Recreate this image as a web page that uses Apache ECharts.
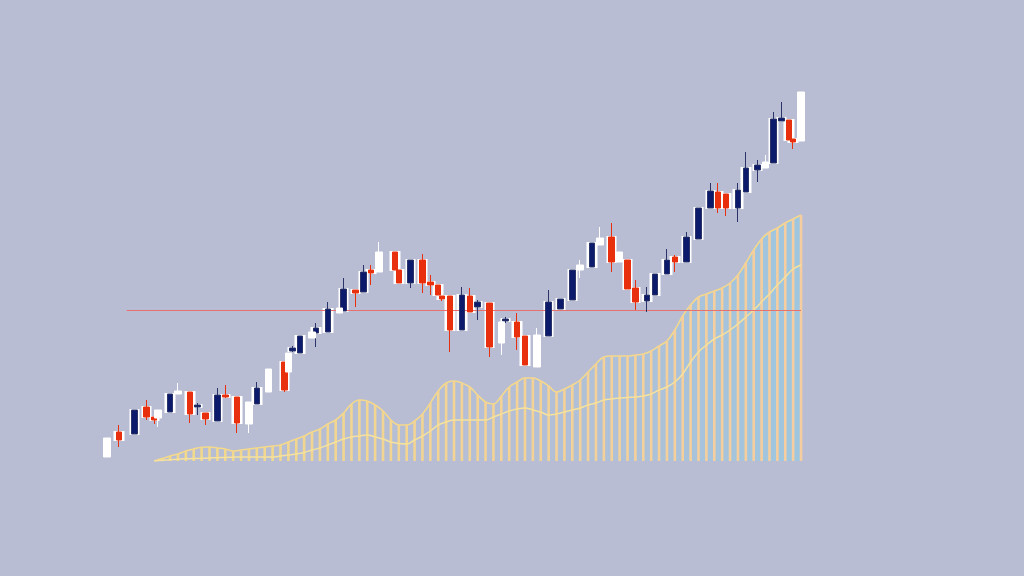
<!DOCTYPE html>
<html><head><meta charset="utf-8">
<script src="https://cdn.jsdelivr.net/npm/echarts@6/dist/echarts.min.js"></script>
<style>html,body{margin:0;padding:0;background:#b8bdd3;}#c{width:1024px;height:576px;}</style>
</head><body><div id="c"></div>
<script>
// ---- data ----
const SLOT_COUNT = 177;
const periods = Array.from({length: SLOT_COUNT}, (_, i) => 'T' + (i + 1));

// coloured candles (navy = rising, red = falling)
const candleSlots = [3,7,10,12,16,21,23,25,28,30,33,38,45,47,49,53,56,60,63,65,67,73,74,77,80,82,84,85,87,90,92,94,97,101,104,106,112,115,118,123,128,132,134,137,139,142,144,147,150,153,155,157,160,162,165,169,171,173,174];
const candleOpen  = [29,27,54,44,49,69,54,48,40,66,64,57,99,110,108,128,129,150,171,169,191,209,191,178,201,179,176,165,165,131,165,154,158,140,139,125,125,152,161,194,224,201,173,160,166,187,204,199,222,253,269,267,253,269,291,298,340,341,322];
const candleClose = [21,51,44,41,67,47,56,42,66,64,38,73,71,113,125,133,152,172,168,189,188,191,178,201,178,176,166,162,131,166,149,159,114,142,124,96,159,162,191,218,199,172,159,166,187,201,199,224,253,270,253,253,271,293,296,342,343,321,319];
const candleLow   = [14,27,41,37,49,38,46,36,40,63,28,57,69,109,108,114,129,150,154,169,176,191,178,173,168,166,166,160,109,131,149,141,104,138,111,96,125,152,161,194,189,172,151,149,166,187,189,199,222,253,248,245,239,269,279,298,340,321,312];
const candleHigh  = [36,51,61,46,67,69,58,48,73,76,64,79,99,115,125,138,159,183,171,196,196,209,191,201,207,186,176,165,165,174,173,161,158,144,148,125,171,162,191,218,238,201,181,174,187,212,206,229,253,278,278,267,278,309,301,349,359,341,322];

// white candles
const whiteSlots = [0,13,18,36,41,46,52,59,69,100,109,120,125,130,167,176];
const whiteOpen  = [4,43,67,37,69,89,123,148,189,118,94,191,216,199,293,320];
const whiteClose = [23,51,70,59,92,108,129,153,209,139,126,196,223,209,299,369];
const whiteLow   = [4,34,67,28,69,89,123,148,189,106,94,183,216,199,293,320];
const whiteHigh  = [23,51,78,59,92,108,129,161,219,139,133,201,234,209,306,369];

// volume envelope (upper) and its average line (middle), one value per volume bar
const volumeStartSlot = 12, volumeSlotStep = 2;
const volumeUpper = [0,2.4,5,7,10,12,13.7,14,13,12,10,11,12,13,14,15,16,19,22,25,29,32,37,41,48,57,61,60,56,50,41,36,36,40,47,58,70,78,80,78,74,66,59,57,65,74,79,83,83,80,75,69,72,76,81,89,97,104,105,105,105,106,107,110,115,120,131,145,156,164,167,170,173,178,186,198,211,222,229,233,238,242,246];
const volumeMiddle = [0,0.6,1.2,1.8,2.2,2.5,2.7,3,3.3,3.5,3.8,4,4,4,4,4,5,6,7,8.5,11,13,16,19,22,24,25,26,24,22,19,17.5,17,21,25,30,36,39,41,41,41,41,41,44,47,50,52,53,51,49,46,47,49,51,53,56,58,61,62,63,63.5,64,65,67,71,74,79,87,99,109,116,122,126,131,137,144,151,159,167,176,184,192,196];

const referenceLevel = 151;
const referenceFrom = 5, referenceTo = 176;

// ---- build series data ----
function emptyCandles(){ return Array.from({length: SLOT_COUNT}, () => ['-','-','-','-']); }
const mainData = emptyCandles();
const haloData = emptyCandles();
candleSlots.forEach((s, i) => {
  const o = candleOpen[i], c = candleClose[i];
  mainData[s] = [o, c, candleLow[i], candleHigh[i]];
  haloData[s] = [o, c, Math.min(o, c), Math.max(o, c)];
});
const whiteData = emptyCandles();
whiteSlots.forEach((s, i) => { whiteData[s] = [whiteOpen[i], whiteClose[i], whiteLow[i], whiteHigh[i]]; });
const upperData = Array(SLOT_COUNT).fill('-');
const middleData = Array(SLOT_COUNT).fill('-');
volumeUpper.forEach((v, i) => { upperData[volumeStartSlot + i * volumeSlotStep] = v; });
volumeMiddle.forEach((v, i) => { middleData[volumeStartSlot + i * volumeSlotStep] = v; });

const chart = echarts.init(document.getElementById('c'), null, {renderer: 'canvas'});
chart.setOption({
  backgroundColor: '#b8bdd3',
  animation: false,
  grid: {left: 105, right: 221, top: 90, bottom: 115},
  xAxis: {type: 'category', data: periods, boundaryGap: true, show: false},
  yAxis: {type: 'value', min: 0, max: 371, show: false, splitLine: {show: false}},
  series: [
    {
      type: 'line', data: upperData, connectNulls: true, smooth: 0.4, symbol: 'none', z: 1,
      lineStyle: {color: '#f4d98c', width: 1.6},
      areaStyle: {color: {type: 'linear', global: true, x: 150, y: 0, x2: 805, y2: 0, colorStops: [
        {offset: 0, color: 'rgba(140,205,232,0)'},
        {offset: 0.55, color: 'rgba(140,205,232,0.12)'},
        {offset: 0.8, color: 'rgba(140,205,232,0.45)'},
        {offset: 1, color: 'rgba(140,205,232,0.85)'}]}}
    },
    {
      type: 'bar', data: upperData, barWidth: 2.6, z: 2,
      itemStyle: {color: {type: 'linear', global: true, x: 155, y: 0, x2: 801, y2: 0, colorStops: [
        {offset: 0, color: '#f1d98a'}, {offset: 1, color: '#f6cd9f'}]}}
    },
    {
      type: 'line', data: middleData, connectNulls: true, smooth: 0.4, symbol: 'none', z: 3,
      lineStyle: {color: '#f6e29c', width: 1.5},
      markLine: {
        silent: true, symbol: ['none', 'none'], label: {show: false},
        lineStyle: {color: '#e8716f', width: 1, type: 'solid', opacity: 1},
        data: [[{coord: [periods[referenceFrom], referenceLevel]}, {coord: [periods[referenceTo], referenceLevel]}]]
      }
    },
    {
      type: 'candlestick', data: haloData, barWidth: 9, z: 4, silent: true,
      itemStyle: {color: '#ffffff', color0: '#ffffff', borderColor: '#ffffff', borderColor0: '#ffffff', borderWidth: 2, opacity: 1}
    },
    {
      type: 'candlestick', data: mainData, barWidth: 6, z: 5,
      itemStyle: {color: '#0c1a6b', color0: '#e8300f', borderColor: '#2b3468', borderColor0: '#e8300f', borderWidth: 1, opacity: 1}
    },
    {
      type: 'candlestick', data: whiteData, barWidth: 7, z: 6,
      itemStyle: {color: '#ffffff', color0: '#ffffff', borderColor: '#ffffff', borderColor0: '#ffffff', borderWidth: 1, opacity: 1}
    }
  ]
});
</script></body></html>
